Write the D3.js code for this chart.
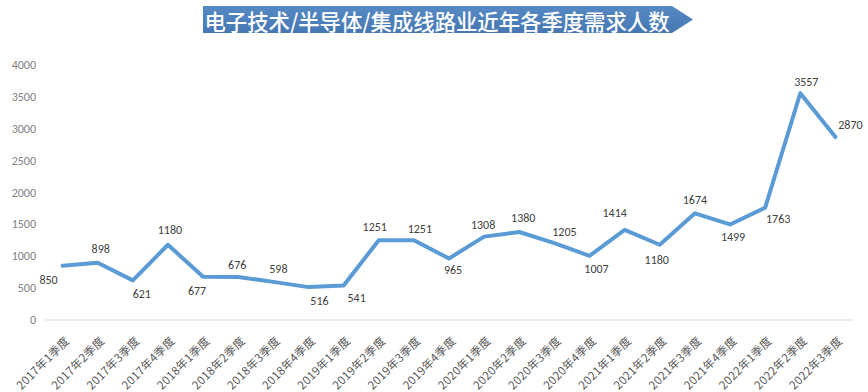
<!DOCTYPE html>
<html><head><meta charset="utf-8">
<script src="https://cdn.jsdelivr.net/npm/d3@7"></script>
<style>
html,body{margin:0;padding:0;background:#fff;}
svg{display:block;font-family:"Noto Sans CJK SC","Noto Sans",sans-serif;}
</style></head>
<body>
<svg id="chart" width="868" height="392"></svg>
<script>
const title = "电子技术/半导体/集成线路业近年各季度需求人数";
const categories = ["2017年1季度","2017年2季度","2017年3季度","2017年4季度",
  "2018年1季度","2018年2季度","2018年3季度","2018年4季度",
  "2019年1季度","2019年2季度","2019年3季度","2019年4季度",
  "2020年1季度","2020年2季度","2020年3季度","2020年4季度",
  "2021年1季度","2021年2季度","2021年3季度","2021年4季度",
  "2022年1季度","2022年2季度","2022年3季度"];
const values = [850,898,621,1180,677,676,598,516,541,1251,1251,965,1308,1380,1205,1007,1414,1180,1674,1499,1763,3557,2870];
const yTicks = [0,500,1000,1500,2000,2500,3000,3500,4000];
// label offsets (dx, dy) relative to each point, reproducing label placement
const labelOffsets = [[-14,14],[3,-14],[9,14],[2,-15],[-6,14],[-1,-12],[5,-13],[11,14],[13,12],
  [-4,-13],[6,-11],[4,12],[-1,-12],[4,-14],[10,-11],[7,13],[-10,-17],[-3,15],[0,-13],[3,13],[13,11],[6,-11],[15,-12]];

const svg = d3.select("#chart");
const x = d3.scalePoint().domain(categories).range([45,853]).padding(0.5);
const y = d3.scaleLinear().domain([0,4000]).range([320,65]);

// title banner (arrow shape)
const defs = svg.append("defs");
const g1 = defs.append("linearGradient").attr("id","tg").attr("x1",0).attr("y1",0).attr("x2",0).attr("y2",1);
g1.append("stop").attr("offset","0%").attr("stop-color","#5689c4");
g1.append("stop").attr("offset","100%").attr("stop-color","#4677b4");
const bx0=203, bx1=672, bx2=693, by0=6, by1=33;
svg.append("path")
  .attr("d",`M${bx0},${by0}L${bx1},${by0}L${bx2},${(by0+by1)/2}L${bx1},${by1}L${bx0},${by1}Z`)
  .attr("fill","url(#tg)");
svg.append("text").attr("x",437).attr("y",20).attr("text-anchor","middle")
  .attr("dominant-baseline","central")
  .attr("font-size",22).attr("font-weight",500).attr("fill","#fff")
  .attr("textLength",465).attr("lengthAdjust","spacingAndGlyphs")
  .text(title);

// y axis labels
svg.append("g").selectAll("text").data(yTicks).join("text")
  .attr("x",36).attr("y",d=>y(d)).attr("text-anchor","end")
  .attr("dominant-baseline","central").attr("font-size",12)
  .attr("font-family","Calibri,Carlito,'Liberation Sans',sans-serif")
  .attr("fill","#7f7f7f").text(d=>d);

// x axis line
svg.append("line").attr("x1",45).attr("x2",853).attr("y1",y(0)).attr("y2",y(0))
  .attr("stroke","#d9d9d9").attr("stroke-width",1);

// x labels
svg.append("g").selectAll("text").data(categories).join("text")
  .attr("transform",d=>`translate(${x(d)+4},${338}) rotate(-45)`)
  .attr("text-anchor","end").attr("font-size",11.5).attr("fill","#595959")
  .attr("dominant-baseline","central")
  .attr("letter-spacing",0.3)
  .text(d=>d);

// line
const line = d3.line().x((d,i)=>x(categories[i])).y(d=>y(d));
svg.append("path").datum(values).attr("d",line)
  .attr("fill","none").attr("stroke","#5b9bd5").attr("stroke-width",4)
  .attr("stroke-linejoin","round").attr("stroke-linecap","round");

// data labels
svg.append("g").selectAll("text").data(values).join("text")
  .attr("x",(d,i)=>x(categories[i])+labelOffsets[i][0])
  .attr("y",(d,i)=>y(d)+labelOffsets[i][1])
  .attr("text-anchor","middle").attr("dominant-baseline","central")
  .attr("font-size",12).attr("fill","#404040")
  .attr("font-family","Calibri,Carlito,'Liberation Sans',sans-serif")
  .text(d=>d);
</script>
</body></html>
